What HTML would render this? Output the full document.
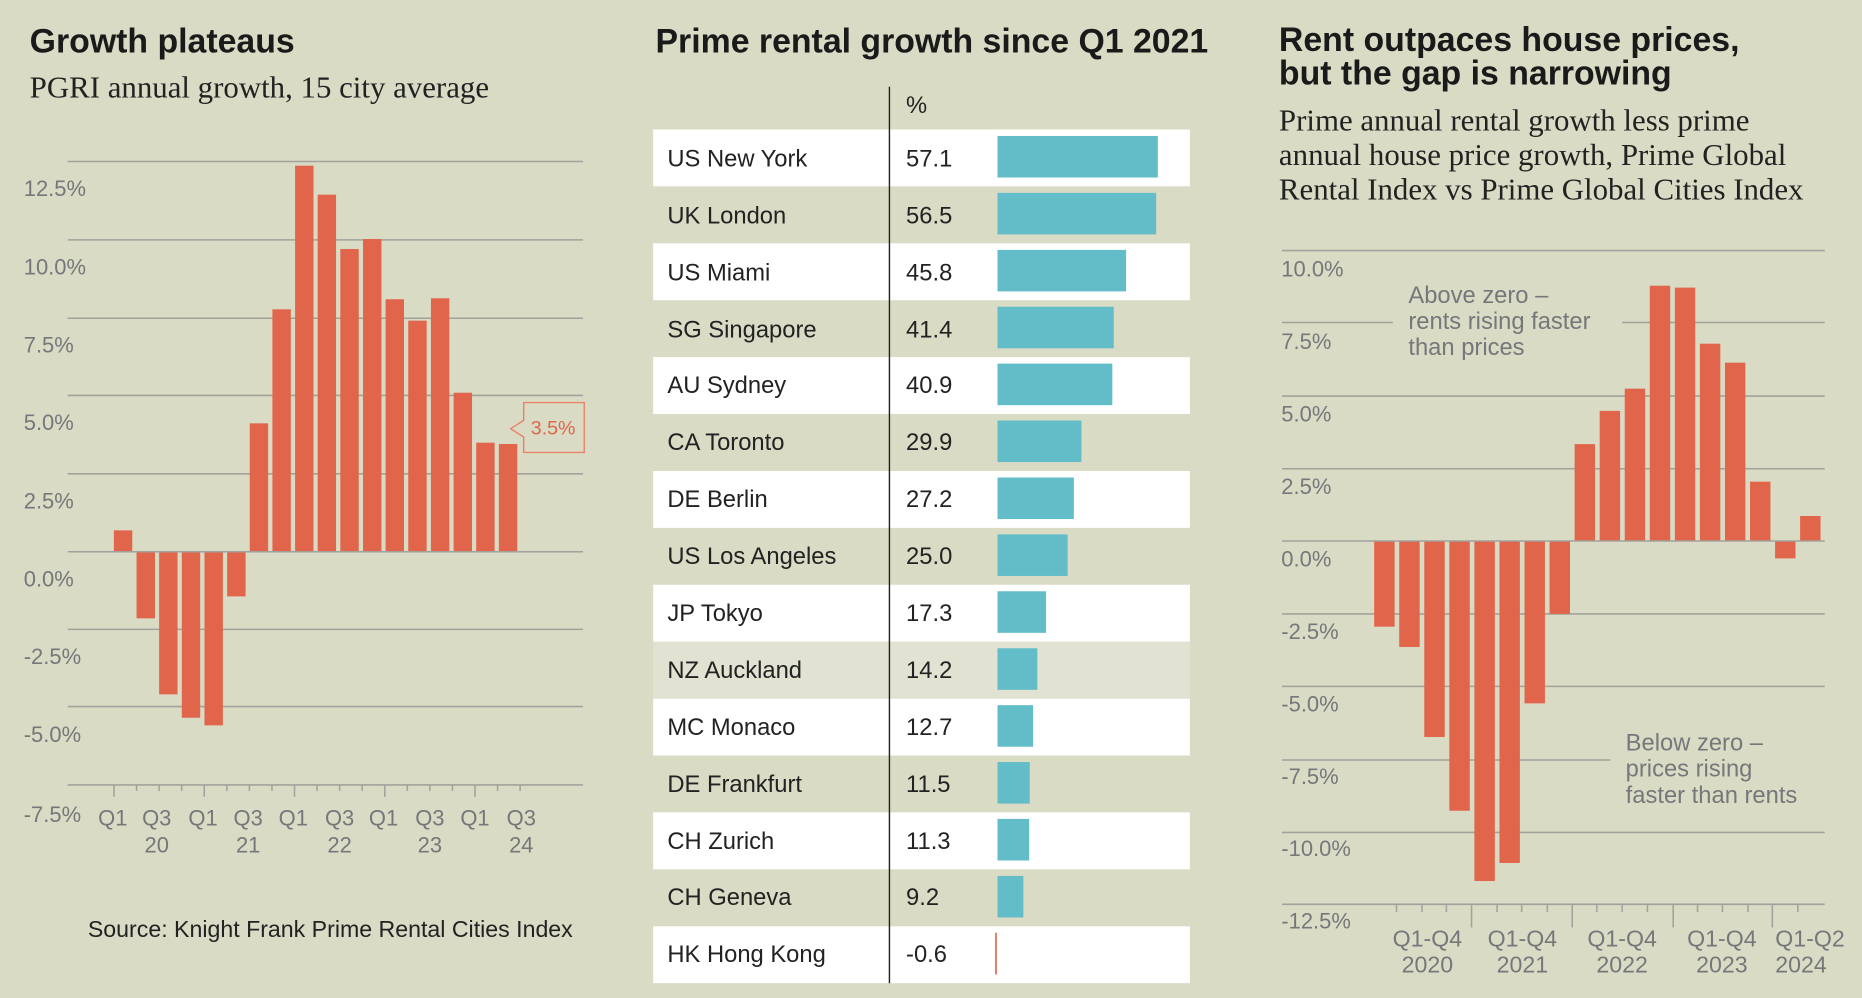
<!DOCTYPE html>
<html><head><meta charset="utf-8"><style>
html,body{margin:0;padding:0;background:#dadbc5;}
svg{display:block;}
.t{font-family:"Liberation Sans",sans-serif;}
.s{font-family:"Liberation Serif",serif;}
</style></head><body>
<svg width="1862" height="998" viewBox="0 0 1568 840.4" preserveAspectRatio="none" xmlns="http://www.w3.org/2000/svg">
<rect x="0" y="0" width="1568" height="840.4" fill="#dadbc5"/>
<!-- LEFT -->
<text class="t" x="25" y="44" font-size="28.5" font-weight="bold" fill="#1a1a1a">Growth plateaus</text>
<text class="s" x="25" y="82" font-size="26" fill="#222">PGRI annual growth, 15 city average</text>
<g stroke="#a2a29c" stroke-width="1.3">
<line x1="57" x2="491" y1="136" y2="136"/><line x1="57" x2="491" y1="202" y2="202"/>
<line x1="57" x2="491" y1="268" y2="268"/><line x1="57" x2="491" y1="333" y2="333"/>
<line x1="57" x2="491" y1="399" y2="399"/><line x1="57" x2="491" y1="530" y2="530"/>
<line x1="57" x2="491" y1="595" y2="595"/><line x1="57" x2="491" y1="661" y2="661"/>
</g>
<g class="t" font-size="18.5" fill="#76777a">
<text x="20" y="165">12.5%</text><text x="20" y="231">10.0%</text><text x="20" y="297">7.5%</text>
<text x="20" y="362">5.0%</text><text x="20" y="428">2.5%</text><text x="20" y="494">0.0%</text>
<text x="20" y="559">-2.5%</text><text x="20" y="625">-5.0%</text><text x="20" y="692">-7.5%</text>
</g>
<g fill="#e0654a">
<rect x="95.9" y="446.6" width="15.5" height="18"/>
<rect x="115" y="464.6" width="15.5" height="56.1"/>
<rect x="134" y="464.6" width="15.5" height="120.1"/>
<rect x="153.1" y="464.6" width="15.5" height="139.8"/>
<rect x="172.2" y="464.6" width="15.5" height="146.2"/>
<rect x="191.3" y="464.6" width="15.5" height="37.6"/>
<rect x="210.3" y="356.5" width="15.5" height="108.1"/>
<rect x="229.4" y="260.5" width="15.5" height="204.1"/>
<rect x="248.5" y="139.5" width="15.5" height="325.1"/>
<rect x="267.5" y="163.9" width="15.5" height="300.7"/>
<rect x="286.6" y="209.7" width="15.5" height="254.9"/>
<rect x="305.7" y="201.3" width="15.5" height="263.3"/>
<rect x="324.7" y="252" width="15.5" height="212.6"/>
<rect x="343.8" y="270" width="15.5" height="194.6"/>
<rect x="362.9" y="251.2" width="15.5" height="213.4"/>
<rect x="382" y="330.7" width="15.5" height="133.9"/>
<rect x="401" y="372.8" width="15.5" height="91.8"/>
<rect x="420.1" y="373.9" width="15.5" height="90.7"/>
</g>
<line x1="57" x2="491" y1="464.6" y2="464.6" stroke="#a2a29c" stroke-width="1.3"/>
<g stroke="#a2a29c" stroke-width="1.3">
<line x1="96" x2="96" y1="661" y2="671"/><line x1="115" x2="115" y1="661" y2="666"/>
<line x1="134" x2="134" y1="661" y2="666"/><line x1="153" x2="153" y1="661" y2="666"/>
<line x1="172" x2="172" y1="661" y2="671"/><line x1="191" x2="191" y1="661" y2="666"/>
<line x1="210" x2="210" y1="661" y2="666"/><line x1="229" x2="229" y1="661" y2="666"/>
<line x1="248" x2="248" y1="661" y2="671"/><line x1="267" x2="267" y1="661" y2="666"/>
<line x1="286" x2="286" y1="661" y2="666"/><line x1="305" x2="305" y1="661" y2="666"/>
<line x1="324" x2="324" y1="661" y2="671"/><line x1="343" x2="343" y1="661" y2="666"/>
<line x1="362" x2="362" y1="661" y2="666"/><line x1="381" x2="381" y1="661" y2="666"/>
<line x1="400" x2="400" y1="661" y2="671"/><line x1="419" x2="419" y1="661" y2="666"/>
<line x1="438" x2="438" y1="661" y2="666"/>
</g>
<g class="t" font-size="18.5" fill="#76777a" text-anchor="middle">
<text x="95" y="695">Q1</text><text x="132" y="695">Q3</text><text x="171" y="695">Q1</text>
<text x="209" y="695">Q3</text><text x="247" y="695">Q1</text><text x="286" y="695">Q3</text>
<text x="323" y="695">Q1</text><text x="362" y="695">Q3</text><text x="400" y="695">Q1</text>
<text x="439" y="695">Q3</text>
<text x="132" y="718">20</text><text x="209" y="718">21</text><text x="286" y="718">22</text>
<text x="362" y="718">23</text><text x="439" y="718">24</text>
</g>
<path d="M441,339 H492 V381 H441 V368 L430,361 L441,354 Z" fill="none" stroke="#e8836a" stroke-width="1.2"/>
<text class="t" x="447" y="366" font-size="16.5" fill="#e0654a">3.5%</text>
<text class="t" x="74" y="789" font-size="19.5" fill="#222">Source: Knight Frank Prime Rental Cities Index</text>

<!-- MIDDLE -->
<text class="t" x="552" y="44" font-size="28.5" font-weight="bold" fill="#1a1a1a">Prime rental growth since Q1 2021</text>
<text class="t" x="763" y="95" font-size="20" fill="#222">%</text>
<g fill="#ffffff">
<rect x="550" y="109" width="452" height="47.9"/>
<rect x="550" y="204.9" width="452" height="47.9"/>
<rect x="550" y="300.7" width="452" height="47.9"/>
<rect x="550" y="396.6" width="452" height="47.9"/>
<rect x="550" y="492.4" width="452" height="47.9"/>
<rect x="550" y="588.3" width="452" height="47.9"/>
<rect x="550" y="684.1" width="452" height="47.9"/>
<rect x="550" y="780" width="452" height="47.9"/>
</g>
<rect x="550" y="540.4" width="452" height="47.9" fill="#e1e2d1"/>
<line x1="749" x2="749" y1="73" y2="828" stroke="#222" stroke-width="1.2"/>
<g fill="#62bdc9">
<rect x="840" y="114.5" width="135" height="35"/>
<rect x="840" y="162.4" width="133.6" height="35"/>
<rect x="840" y="210.4" width="108.3" height="35"/>
<rect x="840" y="258.3" width="97.9" height="35"/>
<rect x="840" y="306.2" width="96.7" height="35"/>
<rect x="840" y="354.1" width="70.7" height="35"/>
<rect x="840" y="402.1" width="64.3" height="35"/>
<rect x="840" y="450" width="59.1" height="35"/>
<rect x="840" y="497.9" width="40.9" height="35"/>
<rect x="840" y="545.9" width="33.6" height="35"/>
<rect x="840" y="593.8" width="30" height="35"/>
<rect x="840" y="641.7" width="27.2" height="35"/>
<rect x="840" y="689.6" width="26.7" height="35"/>
<rect x="840" y="737.6" width="21.8" height="35"/>
</g>
<rect x="838" y="785.5" width="1.4" height="35" fill="#e0654a"/>
<g class="t" font-size="20" fill="#222">
<text x="562" y="140">US New York</text><text x="763" y="140">57.1</text>
<text x="562" y="188">UK London</text><text x="763" y="188">56.5</text>
<text x="562" y="236">US Miami</text><text x="763" y="236">45.8</text>
<text x="562" y="284">SG Singapore</text><text x="763" y="284">41.4</text>
<text x="562" y="331">AU Sydney</text><text x="763" y="331">40.9</text>
<text x="562" y="379">CA Toronto</text><text x="763" y="379">29.9</text>
<text x="562" y="427">DE Berlin</text><text x="763" y="427">27.2</text>
<text x="562" y="475">US Los Angeles</text><text x="763" y="475">25.0</text>
<text x="562" y="523">JP Tokyo</text><text x="763" y="523">17.3</text>
<text x="562" y="571">NZ Auckland</text><text x="763" y="571">14.2</text>
<text x="562" y="619">MC Monaco</text><text x="763" y="619">12.7</text>
<text x="562" y="667">DE Frankfurt</text><text x="763" y="667">11.5</text>
<text x="562" y="715">CH Zurich</text><text x="763" y="715">11.3</text>
<text x="562" y="762">CH Geneva</text><text x="763" y="762">9.2</text>
<text x="562" y="810">HK Hong Kong</text><text x="763" y="810">-0.6</text>
</g>

<!-- RIGHT -->
<text class="t" x="1077" y="43" font-size="28.5" font-weight="bold" fill="#1a1a1a">Rent outpaces house prices,</text>
<text class="t" x="1077" y="71" font-size="28.5" font-weight="bold" fill="#1a1a1a">but the gap is narrowing</text>
<g class="s" font-size="26" fill="#222">
<text x="1077" y="110">Prime annual rental growth less prime</text>
<text x="1077" y="139">annual house price growth, Prime Global</text>
<text x="1077" y="168">Rental Index vs Prime Global Cities Index</text>
</g>
<g stroke="#a2a29c" stroke-width="1.3">
<line x1="1079.6" x2="1536.6" y1="211" y2="211"/>
<line x1="1079.6" x2="1173" y1="271.6" y2="271.6"/><line x1="1366" x2="1536.6" y1="271.6" y2="271.6"/>
<line x1="1079.6" x2="1536.6" y1="333.5" y2="333.5"/>
<line x1="1079.6" x2="1536.6" y1="394.7" y2="394.7"/>
<line x1="1079.6" x2="1536.6" y1="517" y2="517"/>
<line x1="1079.6" x2="1536.6" y1="578" y2="578"/>
<line x1="1079.6" x2="1356" y1="640" y2="640"/>
<line x1="1079.6" x2="1536.6" y1="701" y2="701"/>
<line x1="1079.6" x2="1536.6" y1="761.5" y2="761.5"/>
</g>
<g class="t" font-size="18.5" fill="#76777a">
<text x="1079" y="233">10.0%</text><text x="1079" y="294">7.5%</text><text x="1079" y="355">5.0%</text>
<text x="1079" y="416">2.5%</text><text x="1079" y="477">0.0%</text><text x="1079" y="538">-2.5%</text>
<text x="1079" y="599">-5.0%</text><text x="1079" y="660">-7.5%</text><text x="1079" y="721">-10.0%</text>
<text x="1079" y="782">-12.5%</text>
</g>
<g fill="#e0654a">
<rect x="1157.2" y="455.6" width="17.2" height="72.1"/>
<rect x="1178.3" y="455.6" width="17.2" height="89.2"/>
<rect x="1199.4" y="455.6" width="17.2" height="165"/>
<rect x="1220.5" y="455.6" width="17.2" height="227.1"/>
<rect x="1241.6" y="455.6" width="17.2" height="286.3"/>
<rect x="1262.7" y="455.6" width="17.2" height="271.1"/>
<rect x="1283.8" y="455.6" width="17.2" height="136.7"/>
<rect x="1304.9" y="455.6" width="17.2" height="61.4"/>
<rect x="1326" y="374" width="17.2" height="81.6"/>
<rect x="1347.1" y="346" width="17.2" height="109.6"/>
<rect x="1368.2" y="327.3" width="17.2" height="128.3"/>
<rect x="1389.3" y="240.6" width="17.2" height="215"/>
<rect x="1410.4" y="242.2" width="17.2" height="213.4"/>
<rect x="1431.5" y="289.4" width="17.2" height="166.2"/>
<rect x="1452.6" y="305.4" width="17.2" height="150.2"/>
<rect x="1473.7" y="405.6" width="17.2" height="50"/>
<rect x="1494.8" y="455.6" width="17.2" height="14.6"/>
<rect x="1515.9" y="434.5" width="17.2" height="21.1"/>
</g>
<line x1="1079.6" x2="1536.6" y1="455.6" y2="455.6" stroke="#a2a29c" stroke-width="1.3"/>
<g stroke="#a2a29c" stroke-width="1.3">
<line x1="1176" x2="1176" y1="761.5" y2="768"/><line x1="1197.5" x2="1197.5" y1="761.5" y2="768"/>
<line x1="1218" x2="1218" y1="761.5" y2="768"/><line x1="1239.2" x2="1239.2" y1="761.5" y2="781"/>
<line x1="1260.7" x2="1260.7" y1="761.5" y2="768"/><line x1="1281.4" x2="1281.4" y1="761.5" y2="768"/>
<line x1="1303" x2="1303" y1="761.5" y2="768"/><line x1="1324" x2="1324" y1="761.5" y2="781"/>
<line x1="1344.7" x2="1344.7" y1="761.5" y2="768"/><line x1="1366" x2="1366" y1="761.5" y2="768"/>
<line x1="1387.3" x2="1387.3" y1="761.5" y2="768"/><line x1="1409" x2="1409" y1="761.5" y2="781"/>
<line x1="1429.5" x2="1429.5" y1="761.5" y2="768"/><line x1="1450.5" x2="1450.5" y1="761.5" y2="768"/>
<line x1="1472" x2="1472" y1="761.5" y2="768"/><line x1="1492.5" x2="1492.5" y1="761.5" y2="781"/>
<line x1="1514" x2="1514" y1="761.5" y2="768"/>
</g>
<g class="t" font-size="19.5" fill="#76777a" text-anchor="middle">
<text x="1202" y="797">Q1-Q4</text><text x="1202" y="819">2020</text>
<text x="1282" y="797">Q1-Q4</text><text x="1282" y="819">2021</text>
<text x="1366" y="797">Q1-Q4</text><text x="1366" y="819">2022</text>
<text x="1450" y="797">Q1-Q4</text><text x="1450" y="819">2023</text>
</g>
<g class="t" font-size="19.5" fill="#76777a">
<text x="1495" y="797">Q1-Q2</text><text x="1495" y="819">2024</text>
</g>
<g class="t" font-size="20" fill="#76777a">
<text x="1186" y="255">Above zero –</text>
<text x="1186" y="277">rents rising faster</text>
<text x="1186" y="299">than prices</text>
<text x="1369" y="632">Below zero –</text>
<text x="1369" y="654">prices rising</text>
<text x="1369" y="676">faster than rents</text>
</g>
</svg>
</body></html>
